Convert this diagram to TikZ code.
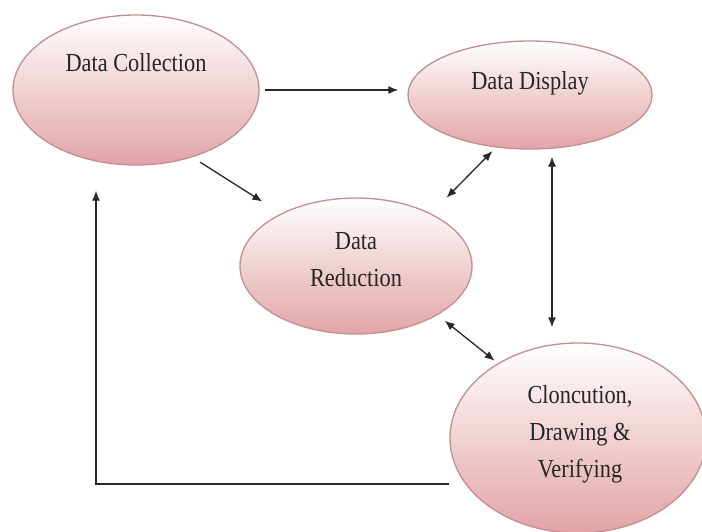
\documentclass[tikz,border=0pt]{standalone}
\usepackage{fontspec}
\setmainfont{Liberation Serif}
\usepackage{xcolor}
\usepackage{tikz}
\usetikzlibrary{shapes.geometric,arrows.meta}
\definecolor{blobpink}{RGB}{226,164,166}
\definecolor{blobedge}{RGB}{196,142,144}
\definecolor{arrowgray}{RGB}{40,40,40}

\begin{document}
\begin{tikzpicture}[x=1pt,y=-1pt,
    blob/.style={ellipse, draw=blobedge, line width=1.3pt, top color=white, bottom color=blobpink, inner sep=0pt},
    txt/.style={align=center, font=\fontsize{26}{37}\selectfont, text=black!85, xscale=0.86, transform shape},
    arr/.style={-{Latex[length=10pt,width=8pt]}, line width=1.3pt, draw=arrowgray},
    darr/.style={{Latex[length=10pt,width=8pt]}-{Latex[length=10pt,width=8pt]}, line width=1.3pt, draw=arrowgray}]
  \useasboundingbox (0,0) rectangle (702,531);
  % the four stages
  \node[blob, minimum width=246pt, minimum height=150pt] (dc) at (136,90) {};
  \node[blob, minimum width=244pt, minimum height=108pt] (dd) at (530,95) {};
  \node[blob, minimum width=232pt, minimum height=136pt] (dr) at (356,266) {};
  \node[blob, minimum width=256pt, minimum height=190pt] (cv) at (578,438) {};
  \node[txt] (dctext) at ([yshift=27pt]dc.center) {Data Collection};
  \node[txt] (ddtext) at ([yshift=12pt]dd.center) {Data Display};
  \node[txt] (drtext) at ([yshift=6pt]dr.center) {Data\\Reduction};
  \node[txt] (cvtext) at ([yshift=4pt,xshift=2pt]cv.center) {Cloncution,\\Drawing \&\\Verifying};
  % connectors
  \draw[arr, shorten <=5pt, shorten >=9pt] (dc.east) -- (dc.east -| dd.west);
  \draw[arr, shorten <=9pt, shorten >=22pt] (dc.-50) -- (dr.145);
  \draw[darr, shorten <=22pt, shorten >=5pt] (dr.35) -- (dd.-123);
  \draw[darr, shorten <=7pt, shorten >=15pt] ([xshift=22pt]dd.south) -- ([xshift=22pt]dd.south |- cv.north);
  \draw[darr, shorten <=9pt, shorten >=4pt] (dr.-31) -- (cv.137);
  \draw[arr, shorten >=25pt] ([yshift=-46pt]cv.west) -| ([xshift=-40pt]dc.south);
\end{tikzpicture}
\end{document}
